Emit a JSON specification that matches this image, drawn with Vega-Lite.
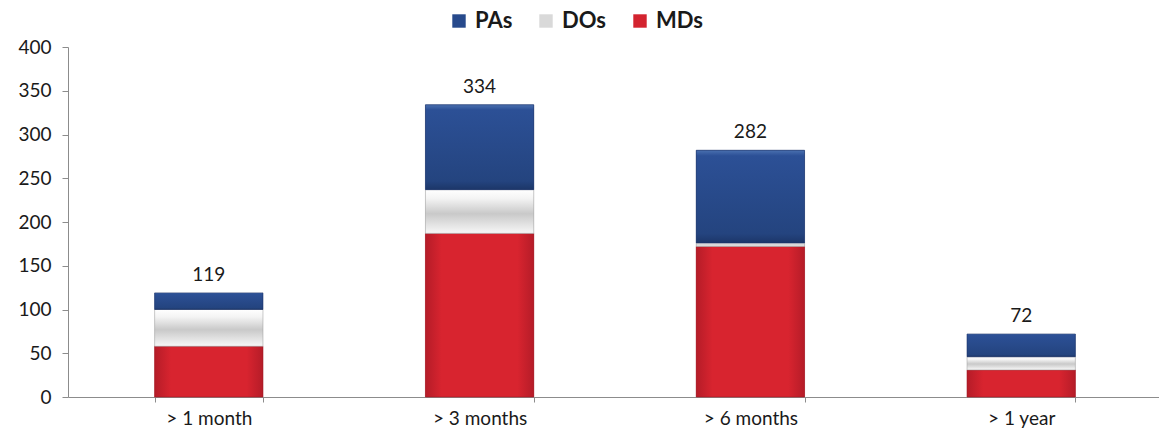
{
  "$schema": "https://vega.github.io/schema/vega-lite/v6.json",
  "width": 1094,
  "height": 350,
  "autosize": {"type": "none"},
  "padding": {"left": 68, "top": 47, "right": 0, "bottom": 43},
  "background": "white",
  "config": {
    "font": "Lato",
    "view": {"stroke": null},
    "axis": {"labelFont": "Lato", "labelFontSize": 19, "labelColor": "#1a1a1a", "domainColor": "#8c8c8c", "tickColor": "#8c8c8c", "grid": false, "title": null}
  },
  "data": {
    "values": [
      {"period": "> 1 month", "group": "MDs", "order": 1, "count": 58},
      {"period": "> 1 month", "group": "DOs", "order": 2, "count": 42},
      {"period": "> 1 month", "group": "PAs", "order": 3, "count": 19},
      {"period": "> 3 months", "group": "MDs", "order": 1, "count": 187},
      {"period": "> 3 months", "group": "DOs", "order": 2, "count": 50},
      {"period": "> 3 months", "group": "PAs", "order": 3, "count": 97},
      {"period": "> 6 months", "group": "MDs", "order": 1, "count": 172},
      {"period": "> 6 months", "group": "DOs", "order": 2, "count": 4},
      {"period": "> 6 months", "group": "PAs", "order": 3, "count": 106},
      {"period": "> 1 year", "group": "MDs", "order": 1, "count": 31},
      {"period": "> 1 year", "group": "DOs", "order": 2, "count": 15},
      {"period": "> 1 year", "group": "PAs", "order": 3, "count": 26}
    ]
  },
  "transform": [
    {"stack": "count", "groupby": ["period"], "sort": [{"field": "order", "order": "ascending"}], "as": ["y0", "y1"]}
  ],
  "encoding": {
    "x": {
      "field": "period", "type": "nominal", "sort": ["> 1 month", "> 3 months", "> 6 months", "> 1 year"],
      "scale": {"paddingInner": 0.6, "paddingOuter": 0.32},
      "axis": {"labelAngle": 0, "tickBand": "extent", "tickSize": 5, "labelPadding": 7}
    }
  },
  "layer": [
    {
      "mark": {"type": "bar"},
      "encoding": {
        "y": {"field": "y0", "type": "quantitative", "scale": {"domain": [0, 400]},
          "axis": {"values": [0, 50, 100, 150, 200, 250, 300, 350, 400], "tickSize": 6, "labelPadding": 11}},
        "y2": {"field": "y1"},
        "color": {
          "field": "group", "type": "nominal",
          "scale": {"domain": ["PAs", "DOs", "MDs"], "range": ["#274a8c", "#d9d9d9", "#d3232f"]},
          "legend": {"title": null, "orient": "none", "direction": "horizontal", "legendX": 380, "legendY": -37,
            "symbolType": "square", "symbolSize": 180, "symbolStrokeWidth": 0, "labelFontSize": 22, "labelFontWeight": "bold",
            "labelColor": "#1a1a1a", "columnPadding": 22, "labelOffset": 5}
        }
      }
    },
    {
      "transform": [{"filter": "datum.group === 'MDs'"}],
      "mark": {"type": "bar", "stroke": "#a01824", "strokeWidth": 0.6,
        "color": {"gradient": "linear", "x1": 0, "y1": 0, "x2": 1, "y2": 0,
          "stops": [{"offset": 0, "color": "#b51c28"}, {"offset": 0.15, "color": "#d8242f"}, {"offset": 0.85, "color": "#d8242f"}, {"offset": 1, "color": "#b51c28"}]}},
      "encoding": {"y": {"field": "y0", "type": "quantitative"}, "y2": {"field": "y1"}}
    },
    {
      "transform": [{"filter": "datum.group === 'DOs'"}],
      "mark": {"type": "bar", "stroke": "#9a9a9a", "strokeWidth": 0.5,
        "color": {"gradient": "linear", "x1": 0, "y1": 1, "x2": 0, "y2": 0,
          "stops": [{"offset": 0, "color": "#f7f7f7"}, {"offset": 0.45, "color": "#c9c9c9"}, {"offset": 0.8, "color": "#f4f4f4"}, {"offset": 1, "color": "#ffffff"}]}},
      "encoding": {"y": {"field": "y0", "type": "quantitative"}, "y2": {"field": "y1"}}
    },
    {
      "transform": [{"filter": "datum.group === 'PAs'"}],
      "mark": {"type": "bar", "stroke": "#1b3368", "strokeWidth": 0.6,
        "color": {"gradient": "linear", "x1": 0, "y1": 0, "x2": 0, "y2": 1,
          "stops": [{"offset": 0, "color": "#4a70b0"}, {"offset": 0.06, "color": "#2c5096"}, {"offset": 0.9, "color": "#24447f"}, {"offset": 1, "color": "#1c3668"}]}},
      "encoding": {"y": {"field": "y0", "type": "quantitative"}, "y2": {"field": "y1"}}
    },
    {
      "transform": [{"aggregate": [{"op": "sum", "field": "count", "as": "total"}], "groupby": ["period"]}],
      "mark": {"type": "text", "baseline": "bottom", "dy": -8, "fontSize": 19, "color": "#1a1a1a", "font": "Lato"},
      "encoding": {"y": {"field": "total", "type": "quantitative"}, "text": {"field": "total", "type": "quantitative"}}
    }
  ]
}
